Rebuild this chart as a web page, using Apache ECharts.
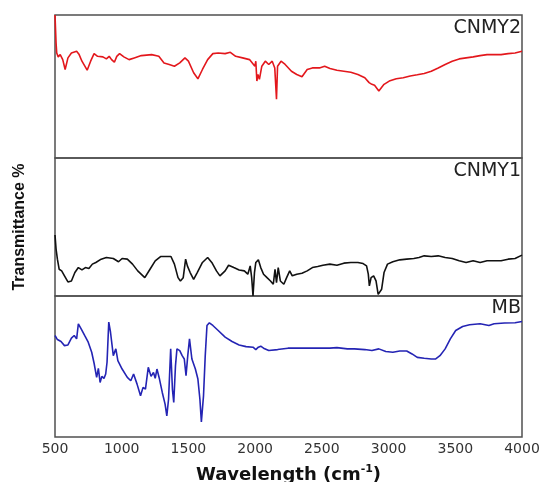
<!DOCTYPE html>
<html><head><meta charset="utf-8">
<script src="https://cdn.jsdelivr.net/npm/echarts@6/dist/echarts.min.js"></script>
<style>html,body{margin:0;padding:0;background:#fff}#c{width:546px;height:482px}</style>
</head><body><div id="c"></div>
<script>
// Wavenumber ticks
const xTicks = [500, 1000, 1500, 2000, 2500, 3000, 3500, 4000];
const panelNames = ['CNMY2', 'CNMY1', 'MB'];

// CNMY2 (red) – wavenumber / relative transmittance
const cnmy2W = [500,508,513,524,539,558,576,597,623,662,681,702,741,767,793,819,859,885,906,924,945,963,984,1016,1055,1094,1147,1225,1278,1317,1356,1395,1435,1474,1500,1539,1571,1605,1644,1683,1723,1775,1814,1854,1906,1958,1998,2005,2013,2021,2032,2050,2076,2102,2128,2147,2160,2168,2194,2225,2272,2312,2351,2390,2429,2482,2521,2561,2613,2665,2717,2770,2822,2854,2875,2895,2927,2966,3005,3058,3110,3162,3215,3267,3320,3372,3424,3477,3529,3581,3634,3686,3738,3791,3843,3896,3948,4000];
const cnmy2T = [100,80.4,73.4,70.7,72.3,68.8,61.9,70.0,73.4,74.6,72.3,67.7,61.4,67.7,73.0,71.1,70.7,69.3,71.1,68.8,67.0,71.1,73.0,70.7,68.8,70.0,71.6,72.3,71.1,66.5,65.4,64.2,66.5,70.0,67.7,59.6,55.4,61.9,68.8,73.0,73.4,73.0,73.9,71.1,70.0,68.8,64.2,67.7,53.8,58.4,55.0,64.2,67.7,65.4,67.7,63.0,41.1,64.2,67.7,65.4,60.7,58.4,56.8,61.9,63.0,63.0,64.2,62.6,61.4,60.7,60.0,58.4,56.1,52.7,51.5,50.8,46.9,51.5,53.8,55.4,56.1,57.3,58.2,59.1,60.7,63.0,65.4,67.7,69.3,70.0,70.7,71.6,72.3,72.3,72.3,73.0,73.4,74.6];

// CNMY1 (black)
const cnmy1W = [500,508,518,531,550,571,597,623,649,675,702,728,754,780,806,846,885,937,976,1003,1042,1081,1120,1173,1212,1251,1291,1330,1369,1395,1422,1440,1461,1479,1492,1513,1539,1566,1605,1644,1675,1710,1736,1775,1801,1840,1880,1919,1945,1963,1974,1984,1995,2005,2024,2042,2063,2089,2115,2136,2149,2160,2173,2189,2215,2236,2259,2278,2312,2351,2390,2429,2469,2508,2560,2613,2665,2717,2770,2809,2835,2848,2856,2869,2888,2906,2922,2935,2948,2966,2992,3032,3084,3136,3189,3228,3267,3320,3372,3424,3477,3529,3581,3634,3686,3738,3791,3843,3896,3948,4000];
const cnmy1T = [44.2,34.0,26.7,19.4,18.2,14.6,10.2,10.9,17.0,20.6,18.9,20.6,19.9,23.1,24.3,26.7,27.9,27.2,24.8,27.2,26.7,23.1,18.2,13.3,19.4,25.5,28.6,28.6,28.6,23.1,13.3,10.9,13.3,26.7,21.8,17.0,12.1,17.0,24.3,27.9,24.3,18.2,14.6,18.2,22.3,20.6,18.9,18.2,15.8,21.8,13.3,0,17.0,24.3,26.2,20.6,15.8,13.3,10.9,8.5,19.4,9.7,20.6,10.9,8.5,13.3,18.2,14.6,15.8,16.5,18.2,20.6,21.4,22.3,23.1,22.3,23.8,24.3,24.3,23.5,21.8,15.8,7.3,13.3,14.6,10.9,1.2,0,4.9,17.0,23.1,24.8,26.2,26.7,27.2,27.9,29.1,28.6,29.1,27.9,27.2,25.5,24.3,25.5,24.3,25.5,25.5,25.5,26.7,27.2,29.6];

// MB (blue)
const mbW = [500,518,545,571,597,623,644,662,675,696,722,749,775,793,812,825,838,851,867,880,890,903,916,937,956,971,1003,1042,1068,1089,1115,1141,1160,1178,1199,1220,1238,1251,1264,1283,1304,1325,1338,1351,1367,1380,1390,1403,1414,1435,1453,1469,1482,1495,1508,1526,1552,1571,1586,1597,1613,1626,1639,1657,1683,1723,1775,1827,1880,1932,1984,2005,2024,2042,2063,2102,2168,2246,2325,2429,2560,2613,2691,2744,2822,2875,2927,2979,3032,3084,3136,3176,3215,3267,3320,3351,3385,3424,3463,3503,3555,3607,3686,3752,3791,3869,3948,4000];
const mbT = [72.0,69.1,67.7,64.8,65.3,70.1,72.0,69.6,80.3,76.7,72.0,67.2,60.1,52.3,42.3,48.7,38.7,43.0,41.6,44.7,53.0,81.5,74.3,57.7,62.5,54.2,48.2,42.3,39.9,44.7,37.5,29.2,35.2,34.0,49.4,43.0,45.8,41.6,48.2,41.1,31.6,23.3,15.0,26.8,62.5,34.0,24.5,50.6,62.5,61.3,57.7,55.3,43.5,57.7,69.6,55.3,48.2,41.1,26.8,10.7,29.2,57.7,79.1,81.0,79.1,75.5,70.8,67.7,65.3,64.1,63.7,62.0,63.7,64.4,63.0,61.3,62.0,63.0,63.0,63.0,63.0,63.4,62.5,62.5,62.0,61.3,62.5,60.6,60.1,61.0,61.0,58.9,56.5,55.8,55.3,55.3,57.7,62.5,69.6,75.5,78.4,79.6,80.3,79.1,80.3,80.8,81.0,81.9];

const seriesW = [cnmy2W, cnmy1W, mbW];
const seriesT = [cnmy2T, cnmy1T, mbT];
const colors = ['#e3171c', '#111111', '#2424b4'];

const zip = (a, b) => a.map((v, i) => [v, b[i]]);

const gridDefs = [
  {top: 15, height: 143},
  {top: 158, height: 138},
  {top: 296, height: 141}
];

const chart = echarts.init(document.getElementById('c'), null, {renderer: 'canvas'});

const option = {
  animation: false,
  backgroundColor: '#fff',
  grid: gridDefs.map(g => ({left: 55, right: 24, top: g.top, height: g.height, show: true, borderColor: '#505050', borderWidth: 1.5, backgroundColor: 'transparent', containLabel: false, outerBoundsMode: 'none'})),
  xAxis: gridDefs.map((g, i) => ({
    type: 'value', gridIndex: i, min: xTicks[0], max: xTicks[xTicks.length - 1], interval: 500,
    axisLine: {show: false}, axisTick: {show: false}, splitLine: {show: false},
    axisLabel: {show: i === 2, color: '#333', fontFamily: 'DejaVu Sans', fontSize: 14, margin: 5, formatter: v => String(v)},
    name: i === 2 ? '{a|Wavelength (cm}{s|-1}{a|)}' : '',
    nameLocation: 'middle', nameGap: 27,
    nameTextStyle: {
      rich: {
        a: {fontFamily: 'DejaVu Sans', fontWeight: 'bold', fontSize: 18, color: '#111', lineHeight: 22},
        s: {fontFamily: 'DejaVu Sans', fontWeight: 'bold', fontSize: 11, color: '#111', verticalAlign: 'top', lineHeight: 22, padding: [0, 0, 8, 0]}
      }
    }
  })),
  yAxis: gridDefs.map((g, i) => ({
    type: 'value', gridIndex: i, min: 0, max: 100,
    axisLine: {show: false}, axisTick: {show: false}, splitLine: {show: false}, axisLabel: {show: false},
    name: i === 1 ? 'Transmittance %' : '',
    nameLocation: 'middle', nameGap: 27, nameRotate: 90,
    nameTextStyle: {fontFamily: "'Liberation Sans Narrow', 'Liberation Sans', sans-serif", fontWeight: 'bold', fontSize: 16, color: '#111'}
  })),
  series: seriesW.map((w, i) => ({
    type: 'line', name: panelNames[i], xAxisIndex: i, yAxisIndex: i,
    data: zip(w, seriesT[i]), showSymbol: false, symbol: 'none',
    lineStyle: {color: colors[i], width: 1.6}, itemStyle: {color: colors[i]}
  })),
  graphic: [
    {type: 'text', right: 25, top: 19, style: {text: panelNames[0], font: '19px "DejaVu Sans"', fill: '#222'}},
    {type: 'text', right: 25, top: 162, style: {text: panelNames[1], font: '19px "DejaVu Sans"', fill: '#222'}},
    {type: 'text', right: 25, top: 299, style: {text: panelNames[2], font: '19px "DejaVu Sans"', fill: '#222'}}
  ]
};
chart.setOption(option);
</script></body></html>
